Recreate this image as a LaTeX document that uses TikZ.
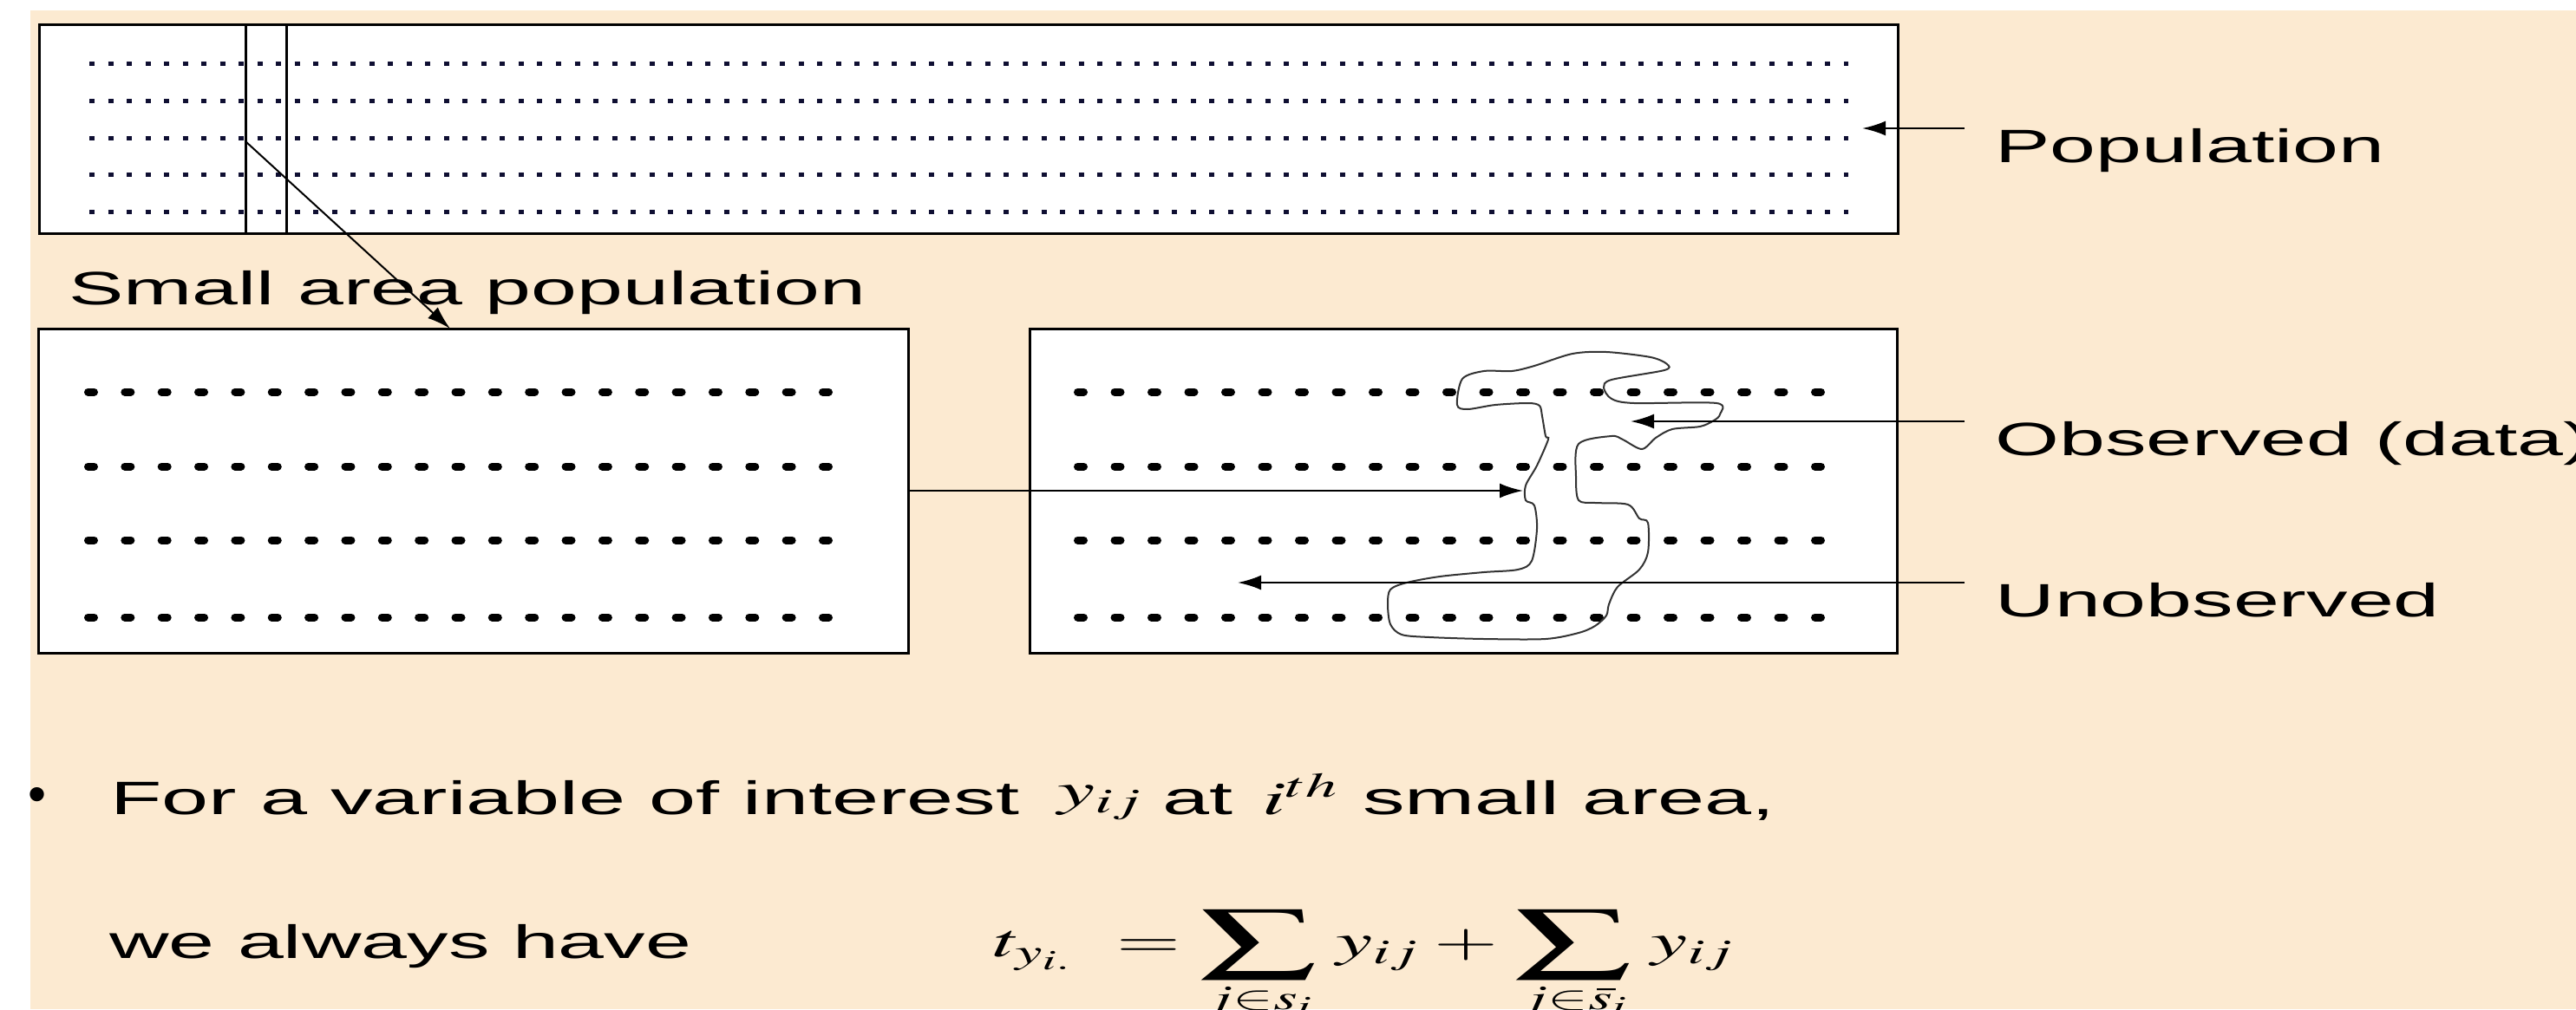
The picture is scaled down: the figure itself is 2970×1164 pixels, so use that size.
\documentclass[tikz,border=0pt]{standalone}
\usepackage{mathptmx}
\usepackage{fontspec}
\setmainfont{Liberation Sans}
\usetikzlibrary{arrows.meta,positioning}
\definecolor{paper}{RGB}{252,234,209}
\definecolor{dotnavy}{RGB}{15,15,50}
\newcommand{\wideSum}{\mathop{\vcenter{\hbox{\scalebox{1.4}[1.2]{$\displaystyle\sum$}}}}\limits}

\begin{document}
\begin{tikzpicture}[x=1pt, y=-1pt, >={Latex[length=27pt,width=17pt]}]
    % Styles
    \tikzstyle{box} = [rectangle, draw, line width=3pt, fill=white, inner sep=0pt, outer sep=0pt, anchor=north west]
    \tikzstyle{lbl} = [inner sep=0pt, font=\fontsize{54}{62}\selectfont, xscale=1.76]
    \tikzstyle{arr} = [draw, ->, line width=2.5pt]
    \tikzstyle{fine} = [dash pattern=on 6pt off 15.52pt, line width=5pt, dotnavy]
    \tikzstyle{coarse} = [dash pattern=on 7pt off 35.35pt, line width=9pt, line cap=round]

    % Frame
    \useasboundingbox (0,0) rectangle (2970,1164);
    \clip (0,0) rectangle (2970,1164);
    \fill[paper] (35,12) rectangle (2970,1164);

    % Boxes
    \node [box, minimum width=2143pt, minimum height=240pt] (pop) at (45,29) {};
    \node [box, minimum width=1003pt, minimum height=374pt] (area) at (44,379) {};
    \node [box, minimum width=1000pt, minimum height=374pt] (sample) at (1187,379) {};
    \draw [line width=3pt] (283,29) -- (283,269);
    \draw [line width=3pt] (330,29) -- (330,269);

    % Units
    \foreach \y in {73,116,159,201,244}
        \draw [fine] (103,\y) -- (2131,\y);
    \foreach \y in {452,538,623,712} {
        \draw [coarse] (101.5,\y) -- (955.5,\y);
        \draw [coarse, dash pattern=on 7pt off 35.5pt] (1242.5,\y) -- (2099.5,\y);
    }

    % Observed part
    \draw [line width=2pt, black!80] plot [smooth cycle, tension=0.5] coordinates {
        (1686,437) (1711,428) (1743,428) (1769,422) (1813,408) (1852,406)
        (1903,412) (1922,420) (1919,427) (1858,438) (1849,447) (1858,460)
        (1884,465) (1979,465) (1983,478) (1976,485) (1960,492) (1928,495)
        (1909,505) (1893,518) (1871,507) (1858,503) (1820,512) (1817,550)
        (1820,577) (1839,580) (1877,582) (1890,598) (1900,603) (1900,637)
        (1890,657) (1865,677) (1855,697) (1852,710) (1839,722) (1820,730)
        (1782,737) (1711,737) (1648,735) (1616,732) (1603,720) (1600,697)
        (1603,680) (1622,672) (1660,665) (1711,660) (1750,657) (1766,647)
        (1772,610) (1769,583) (1759,577) (1759,560) (1772,537) (1785,507)
        (1782,503) (1778,480) (1775,468) (1762,465) (1724,467) (1692,472)
        (1680,467)};

    % Labels
    \node [lbl, anchor=north west] (poplbl) at (2300,148) {Population};
    \node [lbl, anchor=base west] (arealbl) at (79,351) {Small area population};
    \node [lbl, anchor=north west] (obslbl) at (2300,486) {Observed (data)};
    \node [lbl, anchor=north west] (unobslbl) at (2300,672) {Unobserved};

    % Arrows
    \coordinate (popin) at (2147,148);
    \coordinate (pick) at (283,163);
    \coordinate (areain) at (519,379);
    \coordinate (obsedge) at (1756,566);
    \coordinate (obsin) at (1880,486);
    \coordinate (unobsin) at (1427,672);
    \draw [arr] ([xshift=-35pt]poplbl.north west) -- (popin);
    \draw [arr, line width=2pt] (pick) -- (areain);
    \draw [arr] (area.east) -- (obsedge);
    \draw [arr] ([xshift=-35pt]obslbl.north west) -- (obsin);
    \draw [arr] ([xshift=-35pt]unobslbl.north west) -- (unobsin);

    % Text
    \node [inner sep=0pt, anchor=base, font=\fontsize{60}{60}\selectfont] (bullet) at (43,936) {\textbullet};
    \node [lbl, xscale=1.8/1.76, anchor=base west] (line1) at (127,939) {For a variable of interest\hspace{0.45em}\raisebox{10pt}{$y_{ij}$}\hspace{0.25em}at\hspace{0.35em}$i^{th}$\hspace{0.3em}small area,};
    \node [lbl, anchor=base west] (line2) at (126,1105) {we always have};
    \node [lbl, anchor=base west] (formula) at (1146,1103) {$\displaystyle t_{y_{i.}}\mskip6mu = \wideSum_{j\in s_i}\mskip2mu y_{ij}\mskip1mu + \mskip1mu\wideSum_{j\in \bar{s}_i}\mskip2mu y_{ij}$};
\end{tikzpicture}
\end{document}
